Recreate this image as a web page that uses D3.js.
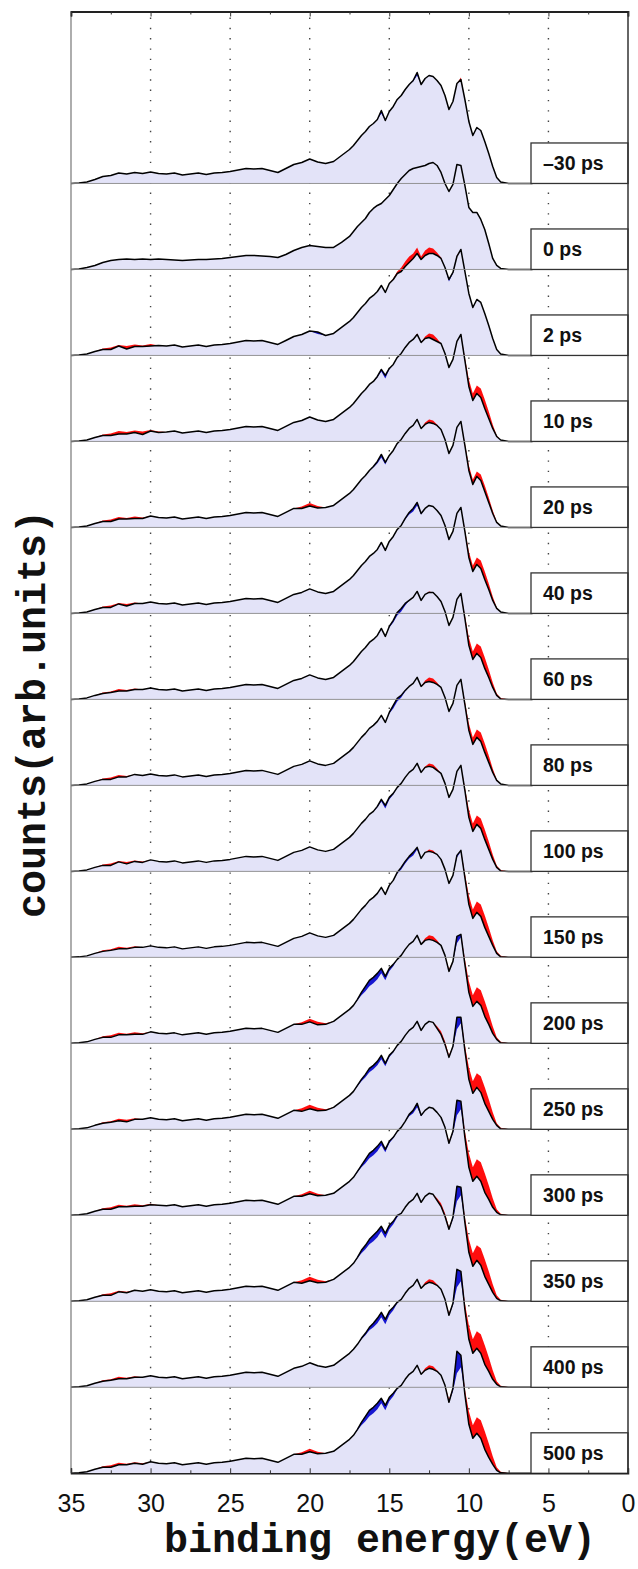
<!DOCTYPE html>
<html>
<head>
<meta charset="utf-8">
<script src="https://cdn.jsdelivr.net/npm/d3@7"></script>
<style>
  html, body { margin: 0; padding: 0; background: #fff; }
  svg { display: block; }
</style>
</head>
<body>
<svg id="chart" width="638" height="1569"></svg>
<script>
// Binding-energy grid (eV): 0.5 eV steps in the tail, 0.25 eV through the valence bands
const energies = [
  35, 34.5, 34, 33.5, 33, 32.5, 32, 31.5, 31, 30.5, 30, 29.5, 29, 28.5, 28, 27.5, 27, 26.5,
  26, 25.5, 25, 24.5, 24, 23.5, 23, 22.5, 22, 21.5, 21, 20.5, 20, 19.5, 19, 18.5, 18, 17.5,
  17.25, 17, 16.75, 16.5, 16.25, 16, 15.75, 15.5, 15.25, 15, 14.75, 14.5, 14.25, 14,
  13.75, 13.5, 13.25, 13, 12.75, 12.5, 12.25, 12, 11.75, 11.5, 11.25, 11,
  10.75, 10.5, 10.25, 10, 9.75, 9.5, 9.25, 9, 8.75, 8.5, 8.25, 8,
  7.5, 7, 6.5, 6
];

// Unpumped reference spectrum (counts, arb. units)
const refCounts = [
  0, 0.5, 1.5, 4, 7, 8, 10.5, 9.5, 11, 10, 11.5, 10, 9.5, 10.5, 8.5, 9.5, 10.5, 9,
  10.5, 11, 12, 13.5, 15, 14.5, 15, 13, 11, 15, 19, 21, 24.5, 21.5, 20, 22, 28, 34,
  38, 43, 48, 52, 57, 60, 64, 70, 63, 72, 77, 84, 88, 94,
  99, 102, 108, 99, 105, 108, 107, 103, 98, 88, 74, 82,
  100, 106, 84, 62, 48, 56, 53, 42, 30, 17, 6, 1.5,
  0, 0, 0, 0
];

// Spectrum recorded at time zero
const zeroPsCounts = [
  0, 0.5, 2, 4, 7, 9, 10, 10.5, 10, 10.5, 10, 10.5, 10, 9.5, 9, 9.5, 10, 10,
  10.5, 11, 12, 13, 14, 14, 13.5, 13, 12, 15, 19, 22, 24, 23, 22, 22, 27, 33,
  38, 43, 47, 51, 57, 61, 64, 66, 70, 74, 80, 86, 91, 95,
  99, 101, 102, 103, 104, 106, 107, 104, 97, 86, 78, 85,
  105, 104, 84, 62, 57, 57, 50, 40, 26, 11, 4, 1,
  0, 0, 0, 0
];

// Energies at which the pump-induced change is tabulated
const shiftEnergies = [
  33.5, 33, 32.5, 32, 31.5, 31, 30.5, 30, 29.5, 29,
  21, 20.5, 20, 19.5, 19, 18.5, 18, 17.5,
  17.25, 17, 16.75, 16.5, 16.25, 16, 15.75, 15.5, 15.25, 15, 14.75, 14.5, 14.25, 14,
  13.75, 13.5, 13.25, 13, 12.75, 12.5, 12.25, 12, 11.75, 11.5, 11.25, 11,
  10.75, 10.5, 10.25, 10, 9.75, 9.5, 9.25, 9, 8.75, 8.5, 8.25, 8
];

// Change of each delay's spectrum relative to the reference (counts)
const shiftM30 = [0,0,0,0,0,0,0,0,0,0,  0,0,0,0,0,0,0,0,  0,0,0,0,0,0,0,3,0,0,0,0,0,0,  0,1,3,0,0,0,0,0,0,0,0,0,  0,-2,0,0,0,0,0,0,0,0,0,0];
const shift2   = [0,-1,-2,-1,-3,-2,-1,-2,0,0,  0,0,0,2,0,0,0,0,  0,0,0,0,0,0,0,0,0,0,-1,-2,-4,-5,  -6,-5,-6,-3,-5,-6,-5,-3,-1,0,2,1,  -1,0,0,0,0,0,0,0,0,0,0,0];
const shift10  = [0,-1,-2,-3,-2,-2,-3,-1,-1,0,  0,0,0,0,0,0,0,0,  0,0,0,0,0,0,1,2,3,1,0,0,0,0,  0,0,-1,0,-2,-4,-5,-3,0,0,0,0,  0,1,-3,-7,-7,-8,-9,-9,-7,-4,-1,0];
const shift20  = [0,-1,-2,-2,-1,-2,-1,0,0,0,  0,-2,-3,-2,0,0,0,0,  0,0,0,0,0,1,2,3,2,0,0,0,0,0,  0,0,0,0,-2,-3,-3,-1,0,0,0,0,  0,0,-2,-5,-5,-5,-6,-6,-5,-3,-1,0];
const shift40  = [0,-1,-2,-1,-2,-1,0,0,0,0,  0,0,0,0,0,0,0,0,  0,0,0,0,0,0,0,1,0,0,0,0,0,1,  2,3,3,1,0,0,0,0,0,0,0,0,  0,0,-2,-6,-6,-7,-8,-8,-6,-4,-1,0];
const shift60  = [0,-1,-1,-2,-1,-1,0,0,0,0,  0,0,0,0,0,0,0,0,  0,0,0,0,0,0,0,1,0,1,2,3,3,2,  0,0,0,0,0,-1,0,0,0,0,0,0,  0,0,-3,-8,-8,-10,-11,-11,-8,-5,-2,-1];
const shift80  = [0,-1,-2,-2,-1,0,0,0,0,0,  0,0,0,0,0,0,0,0,  0,0,0,0,0,0,0,0,0,1,3,3,2,1,  0,0,0,0,-2,-4,-4,-2,0,0,0,0,  0,0,-3,-7,-7,-8,-9,-9,-7,-4,-1,0];
const shift100 = [0,-1,-2,-1,-2,-1,-1,0,0,0,  0,0,0,0,0,0,0,0,  0,0,0,0,0,0,1,2,3,2,1,0,0,0,  0,0,0,0,-1,-3,-3,-2,0,0,0,0,  0,0,-3,-8,-8,-9,-10,-10,-8,-5,-2,-1];
const shift150 = [0,-1,-1,-2,-1,-1,0,0,0,0,  0,0,0,0,0,0,0,0,  0,0,0,0,0,0,0,0,0,0,0,1,2,2,  2,3,2,0,0,-2,-2,0,0,0,0,0,  2,1,-4,-9,-9,-11,-12,-12,-9,-5,-2,-1];
const shift200 = [0,-1,-2,-2,-1,-2,-1,0,0,0,  0,-2,-3,-3,-1,0,0,0,  0,1,3,5,6,6,6,5,4,3,2,0,0,0,  0,0,0,0,-2,-4,-4,-2,0,0,-2,0,  7,3,-5,-11,-11,-14,-15,-15,-11,-7,-2,-1];
const shift250 = [0,-1,-1,-2,-2,-1,0,0,0,0,  0,-3,-4,-3,-1,0,0,0,  0,1,2,3,4,4,4,4,3,2,1,0,0,0,  0,0,0,0,0,0,0,-2,-3,-3,-2,1,  12,6,-5,-12,-12,-14,-16,-16,-12,-7,-2,-1];
const shift300 = [0,-1,-2,-2,-1,-2,-1,-1,0,0,  0,-2,-3,-2,0,0,0,0,  0,1,2,4,5,5,5,4,3,2,1,0,0,0,  2,3,4,1,0,0,0,0,0,0,-2,2,  15,8,-6,-14,-14,-17,-19,-19,-14,-9,-3,-1];
const shift350 = [0,-1,-2,-1,-1,0,0,0,0,0,  0,-3,-4,-3,-1,0,0,0,  0,1,3,4,5,6,6,5,5,4,3,2,0,0,  0,0,0,0,0,0,0,-2,-3,-3,-2,2,  15,8,-5,-13,-13,-15,-17,-17,-13,-8,-3,-1];
const shift400 = [0,-1,-1,-2,-1,-1,0,0,0,0,  0,0,0,0,0,0,0,0,  0,0,1,2,3,4,5,5,5,4,3,1,0,0,  0,0,0,0,-2,-3,-3,-1,0,0,-2,2,  18,10,-6,-14,-14,-17,-19,-19,-14,-9,-3,-1];
const shift500 = [0,-1,-2,-2,-1,-1,-1,0,0,0,  0,-2,-3,-2,0,0,0,0,  0,1,3,5,6,6,6,5,5,4,3,1,0,0,  0,0,0,0,-2,-3,-3,-1,0,0,-3,3,  22,12,-5,-13,-13,-16,-18,-18,-14,-8,-3,-1];

const delays = ["\u201330 ps", "0 ps", "2 ps", "10 ps", "20 ps", "40 ps", "60 ps", "80 ps",
                "100 ps", "150 ps", "200 ps", "250 ps", "300 ps", "350 ps", "400 ps", "500 ps"];
const delayShifts = [shiftM30, null, shift2, shift10, shift20, shift40, shift60, shift80,
                     shift100, shift150, shift200, shift250, shift300, shift350, shift400, shift500];

const xTickValues = [35, 30, 25, 20, 15, 10, 5, 0];
const xMinorTicks = [32.5, 27.5, 22.5, 17.5, 12.5, 7.5, 2.5];
const gridValues = [30, 25, 20, 15, 10, 5];

// ---- layout ----
const OFFSET = 86;               // vertical offset between successive spectra (counts)
const SLOTS = delays.length + 1; // one empty slot above the first spectrum
const plot = { left: 71, right: 628, top: 11.5, bottom: 1473.3 };

const x = d3.scaleLinear().domain([35, 0]).range([plot.left, plot.right]);
const y = d3.scaleLinear().domain([0, SLOTS * OFFSET]).range([plot.bottom, plot.top]);

const colors = { fill: "#e3e3f8", loss: "#ff1010", gain: "#1414d0", line: "#000" };

const svg = d3.select("#chart");

// Blur to soften the difference bands
const defs = svg.append("defs");
defs.append("filter").attr("id", "soft").attr("x", "-5%").attr("y", "-5%").attr("width", "110%").attr("height", "110%")
  .append("feGaussianBlur").attr("stdDeviation", 0.6);
defs.append("clipPath").attr("id", "plotClip").append("rect")
  .attr("x", plot.left).attr("y", plot.top).attr("width", plot.right - plot.left).attr("height", plot.bottom - plot.top);

// Build per-delay series
const panels = delays.map((label, p) => {
  const base = (delays.length - 1 - p) * OFFSET;
  const shifts = delayShifts[p];
  const pts = energies.map((e, i) => {
    const ref = refCounts[i];
    let d = 0;
    if (shifts) {
      const k = shiftEnergies.indexOf(e);
      if (k >= 0) d = shifts[k];
    }
    const val = shifts ? ref + d : zeroPsCounts[i];
    return { e, ref: shifts ? ref : val, val };
  });
  return { label, base, pts };
});

// Dotted vertical grid
svg.append("g").selectAll("line").data(gridValues).join("line")
  .attr("x1", d => x(d)).attr("x2", d => x(d))
  .attr("y1", plot.top + 6).attr("y2", plot.bottom)
  .attr("stroke", "#444").attr("stroke-width", 1.4)
  .attr("stroke-dasharray", "1.4,8.9");

const gPanels = svg.append("g").attr("clip-path", "url(#plotClip)");

// Filled spectra
gPanels.append("g").selectAll("path").data(panels).join("path")
  .attr("fill", colors.fill)
  .attr("d", p => d3.area()
    .x(d => x(d.e))
    .y0(y(p.base))
    .y1(d => y(p.base + d.val))(p.pts));

// Separators between the spectra
svg.append("g").selectAll("line").data(panels.slice(0, -1)).join("line")
  .attr("x1", plot.left).attr("x2", plot.right)
  .attr("y1", p => y(p.base)).attr("y2", p => y(p.base))
  .attr("stroke", "#8a8a8a").attr("stroke-width", 0.9);

// Difference bands: loss where the reference lies above, gain where it lies below
const gBands = gPanels.append("g").attr("filter", "url(#soft)");
gBands.selectAll("path.loss").data(panels).join("path").attr("class", "loss")
  .attr("fill", colors.loss)
  .attr("d", p => d3.area()
    .x(d => x(d.e))
    .y0(d => y(p.base + d.val))
    .y1(d => y(p.base + Math.max(d.val, d.ref)))(p.pts));
gBands.selectAll("path.gain").data(panels).join("path").attr("class", "gain")
  .attr("fill", colors.gain)
  .attr("d", p => d3.area()
    .x(d => x(d.e))
    .y0(d => y(p.base + Math.min(d.val, d.ref)))
    .y1(d => y(p.base + d.val))(p.pts));

// Spectrum lines
gPanels.append("g").selectAll("path").data(panels).join("path")
  .attr("fill", "none").attr("stroke", colors.line).attr("stroke-width", 1.5)
  .attr("stroke-linejoin", "round")
  .attr("d", p => d3.line().x(d => x(d.e)).y(d => y(p.base + d.val))(p.pts));

// Delay labels
const boxLeft = 531, boxH = 40.5;
const gLab = svg.append("g");
gLab.selectAll("rect").data(panels).join("rect")
  .attr("x", boxLeft).attr("y", p => y(p.base) - boxH)
  .attr("width", plot.right - boxLeft).attr("height", boxH)
  .attr("fill", "#fff").attr("stroke", "#333").attr("stroke-width", 1.3);
gLab.selectAll("text").data(panels).join("text")
  .attr("x", boxLeft + 12).attr("y", p => y(p.base) - 13.5)
  .attr("font-family", "'Liberation Sans', Arial, Helvetica, sans-serif")
  .attr("font-weight", "bold").attr("font-size", 19.5).attr("fill", "#111")
  .text(p => p.label);

// Frame
svg.append("line").attr("x1", plot.left).attr("x2", plot.left).attr("y1", plot.top).attr("y2", plot.bottom)
  .attr("stroke", "#777").attr("stroke-width", 1.2);
svg.append("line").attr("x1", plot.right).attr("x2", plot.right).attr("y1", plot.top).attr("y2", plot.bottom)
  .attr("stroke", "#333").attr("stroke-width", 1.5);

// Bottom axis with labels
const axB = svg.append("g").attr("transform", `translate(0,${plot.bottom})`)
  .call(d3.axisBottom(x).tickValues(xTickValues).tickSize(-5).tickPadding(21).tickFormat(d3.format("d")));
axB.select(".domain").attr("stroke", "#222").attr("stroke-width", 1.5);
axB.selectAll("text").attr("font-family", "'Liberation Sans', Arial, Helvetica, sans-serif")
  .attr("font-size", 25).attr("fill", "#111");
const axBm = svg.append("g").attr("transform", `translate(0,${plot.bottom})`)
  .call(d3.axisBottom(x).tickValues(xMinorTicks).tickSize(-3).tickFormat(""));
axBm.select(".domain").remove();

// Top axis, ticks only
const axT = svg.append("g").attr("transform", `translate(0,${plot.top})`)
  .call(d3.axisTop(x).tickValues(xTickValues).tickSize(-5).tickFormat(""));
axT.select(".domain").attr("stroke", "#222").attr("stroke-width", 1.8);
const axTm = svg.append("g").attr("transform", `translate(0,${plot.top})`)
  .call(d3.axisTop(x).tickValues(xMinorTicks).tickSize(-3).tickFormat(""));
axTm.select(".domain").remove();
svg.selectAll(".tick line").attr("stroke", "#333");

// Axis titles
const titleFont = "'Courier New', 'Liberation Mono', 'DejaVu Sans Mono', monospace";
svg.append("text").attr("x", 380).attr("y", 1552)
  .attr("text-anchor", "middle").attr("font-family", titleFont)
  .attr("font-weight", "bold").attr("font-size", 40).attr("fill", "#111")
  .text("binding energy(eV)");
svg.append("text").attr("transform", "translate(45,714) rotate(-90)")
  .attr("text-anchor", "middle").attr("font-family", titleFont)
  .attr("font-weight", "bold").attr("font-size", 40).attr("fill", "#111")
  .text("counts(arb.units)");
</script>
</body>
</html>
